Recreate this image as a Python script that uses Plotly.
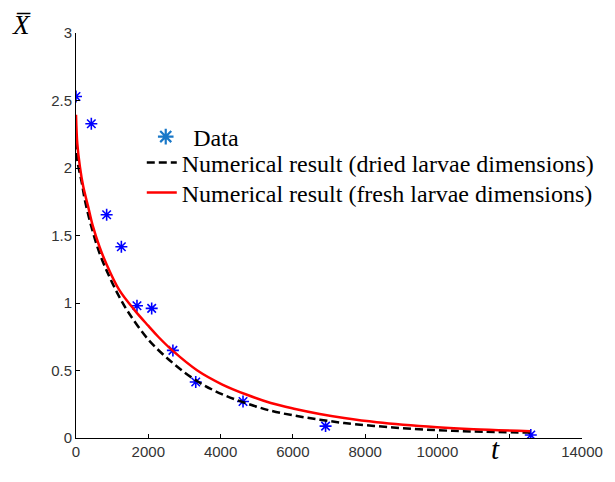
import plotly.graph_objects as go

# Experimental data
data_t = [0, 424, 848, 1255, 1687, 2094, 2681, 3313, 4621, 6905, 12583]
data_x = [2.53, 2.328, 1.654, 1.417, 0.98, 0.96, 0.649, 0.415, 0.27, 0.088, 0.022]

# Numerical result (dried larvae dimensions)
dried_t = [0, 40, 154, 244, 424, 650, 920, 1191, 1462, 2004, 2681, 3358, 4035, 4712, 5389, 6066, 6743, 7420, 8773, 9992, 11000, 12565]
dried_x = [2.2, 2.05, 1.9, 1.765, 1.567, 1.37, 1.197, 1.049, 0.926, 0.728, 0.555, 0.42, 0.325, 0.257, 0.202, 0.165, 0.136, 0.111, 0.078, 0.058, 0.048, 0.04]

# Numerical result (fresh larvae dimensions)
fresh_t = [0, 36, 108, 199, 334, 469, 650, 830, 1191, 1643, 2004, 2275, 2681, 3358, 4035, 4712, 5389, 6066, 6743, 7420, 8322, 9992, 11000, 12565]
fresh_x = [2.395, 2.18, 2.01, 1.864, 1.716, 1.567, 1.417, 1.296, 1.099, 0.94, 0.83, 0.75, 0.645, 0.5, 0.398, 0.322, 0.259, 0.215, 0.178, 0.148, 0.117, 0.08, 0.065, 0.05]

x_tickvals = [0, 2000, 4000, 6000, 8000, 10000, 12000, 14000]
x_ticktext = ["0", "2000", "4000", "6000", "8000", "10000", "", "14000"]
y_tickvals = [0, 0.5, 1, 1.5, 2, 2.5, 3]
y_ticktext = ["0", "0.5", "1", "1.5", "2", "2.5", "3"]

fig = go.Figure()

# data markers (no legend entry)
fig.add_trace(go.Scatter(
    x=data_t, y=data_x, mode="markers", showlegend=False,
    marker=dict(symbol="asterisk-open", size=10, color="#0000ff",
                line=dict(color="#0000ff", width=1.6)),
))
# legend-only Data entry
fig.add_trace(go.Scatter(
    x=[None], y=[None], mode="markers", name="Data", legend="legend",
    marker=dict(symbol="asterisk-open", size=13, color="#1a78c8",
                line=dict(color="#1a78c8", width=2.2)),
))
fig.add_trace(go.Scatter(
    x=dried_t, y=dried_x, mode="lines", line_shape="spline",
    name="Numerical result (dried larvae dimensions)", legend="legend2",
    line=dict(color="black", width=2.5, dash="8px,4px"),
))
fig.add_trace(go.Scatter(
    x=fresh_t, y=fresh_x, mode="lines", line_shape="spline",
    name="Numerical result (fresh larvae dimensions)", legend="legend3",
    line=dict(color="#ff0000", width=2.5),
))

tickfont = dict(family="Liberation Sans, Arial, sans-serif", size=15, color="#333333")
legfont = dict(family="Liberation Serif, Times New Roman, serif", size=24, color="black")


def leg(x, ypix, itemwidth=30):
    return dict(
        x=x, y=1 - (ypix - 33) / 405, xanchor="left", yanchor="middle",
        bgcolor="rgba(0,0,0,0)", borderwidth=0, font=legfont,
        itemwidth=itemwidth,
    )


fig.update_layout(
    width=615, height=482,
    margin=dict(l=76, r=22, t=33, b=44),
    paper_bgcolor="white", plot_bgcolor="white",
    xaxis=dict(
        range=[0, 14000], tickvals=x_tickvals, ticktext=x_ticktext,
        showline=True, linecolor="black", linewidth=1, mirror=False,
        ticks="inside", ticklen=4, tickcolor="black", showgrid=False,
        zeroline=False, tickfont=tickfont,
    ),
    yaxis=dict(
        range=[0, 3], tickvals=y_tickvals, ticktext=y_ticktext,
        showline=True, linecolor="black", linewidth=1, mirror=False,
        ticks="inside", ticklen=4, tickcolor="black", showgrid=False,
        zeroline=False, tickfont=tickfont,
    ),
    legend=leg(0.123, 137, itemwidth=45),
    legend2=leg(0.13, 163),
    legend3=leg(0.13, 193),
    showlegend=True,
)

fig.add_annotation(
    x=0, y=1, xref="paper", yref="paper", xshift=-55, yshift=8,
    text="<i>X\u0305</i>", showarrow=False, xanchor="center", yanchor="middle",
    font=dict(family="Liberation Serif, Times New Roman, serif", size=27, color="black"),
)
fig.add_annotation(
    x=11600, y=0, xref="x", yref="paper", yshift=-11,
    text="<i>t</i>", showarrow=False, xanchor="center", yanchor="middle",
    font=dict(family="Liberation Serif, Times New Roman, serif", size=29, color="black"),
)

fig.write_html("out.html")
